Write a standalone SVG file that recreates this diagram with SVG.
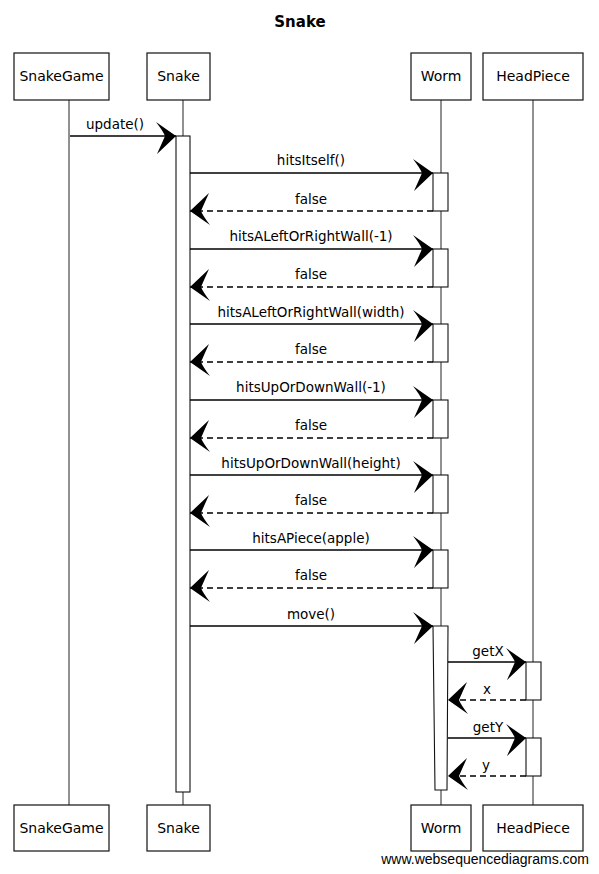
<svg xmlns="http://www.w3.org/2000/svg" width="599" height="874" viewBox="0 0 599 874">
<style>
text{font-family:"DejaVu Sans","Liberation Sans",sans-serif;fill:#000}
.box{fill:#fff;stroke:#111;stroke-width:1.2}
.life{stroke:#222;stroke-width:1;fill:none}
.act{fill:#fff;stroke:#111;stroke-width:1.1}
.lbl{font-size:14px;text-anchor:middle}
.msg{font-size:13.5px;text-anchor:middle}
.call{stroke:#000;stroke-width:1.3;fill:none;marker-end:url(#ah)}
.ret{stroke:#000;stroke-width:1.3;fill:none;stroke-dasharray:6 4;marker-end:url(#ah)}
</style>
<defs>
<marker id="ah" markerUnits="userSpaceOnUse" markerWidth="30" markerHeight="40" refX="27" refY="18" orient="auto" viewBox="0 0 30 40">
<path d="M27,18 L7,4 Q14,13 16,18 Q13,25 8,36 Z" fill="#000"/>
</marker>
</defs>
<text x="300" y="27" style="font-size:15px;font-weight:bold;text-anchor:middle">Snake</text>

<g id="SnakeGame">
<line class="life" x1="69" y1="100" x2="69" y2="805"/>
<rect class="box" x="14" y="53" width="95" height="47"/>
<text class="lbl" x="61.5" y="81">SnakeGame</text>
<rect class="box" x="14" y="805" width="95" height="46"/>
<text class="lbl" x="61.5" y="833">SnakeGame</text>
</g>

<g id="Snake">
<line class="life" x1="183" y1="100" x2="183" y2="805"/>
<rect class="box" x="147" y="53" width="63" height="47"/>
<text class="lbl" x="178.5" y="81">Snake</text>
<rect class="box" x="147" y="805" width="63" height="46"/>
<text class="lbl" x="178.5" y="833">Snake</text>
<rect class="act" x="176" y="136" width="14" height="656"/>
</g>

<g id="Worm">
<line class="life" x1="441" y1="100" x2="441" y2="805"/>
<rect class="box" x="411" y="53" width="60" height="47"/>
<text class="lbl" x="441" y="81">Worm</text>
<rect class="box" x="411" y="805" width="60" height="46"/>
<text class="lbl" x="441" y="833">Worm</text>
<rect class="act" x="433" y="173" width="15" height="38"/>
<rect class="act" x="433" y="249" width="15" height="38"/>
<rect class="act" x="433" y="324" width="15" height="38"/>
<rect class="act" x="433" y="400" width="15" height="38"/>
<rect class="act" x="433" y="475" width="15" height="38"/>
<rect class="act" x="433" y="550" width="15" height="38"/>
<path class="act" d="M433,626 L448,626 L447,790 L435,790 Z"/>
</g>

<g id="HeadPiece">
<line class="life" x1="533" y1="100" x2="533" y2="805"/>
<rect class="box" x="483" y="53" width="100" height="47"/>
<text class="lbl" x="533" y="81">HeadPiece</text>
<rect class="box" x="483" y="805" width="100" height="46"/>
<text class="lbl" x="533" y="833">HeadPiece</text>
<rect class="act" x="526" y="662" width="15" height="38"/>
<rect class="act" x="526" y="738" width="15" height="38"/>
</g>

<g id="connectors">
<path class="call" d="M70,136 L176,136"/>
<text class="msg" x="115" y="129">update()</text>

<path class="call" d="M190,173 L433,173"/>
<text class="msg" x="311" y="165">hitsItself()</text>
<path class="ret" d="M433,211 L190,211"/>
<text class="msg" x="311" y="204">false</text>

<path class="call" d="M190,249 L433,249"/>
<text class="msg" x="311" y="241">hitsALeftOrRightWall(-1)</text>
<path class="ret" d="M433,287 L190,287"/>
<text class="msg" x="311" y="279">false</text>

<path class="call" d="M190,324 L433,324"/>
<text class="msg" x="311" y="317">hitsALeftOrRightWall(width)</text>
<path class="ret" d="M433,362 L190,362"/>
<text class="msg" x="311" y="354">false</text>

<path class="call" d="M190,400 L433,400"/>
<text class="msg" x="311" y="392">hitsUpOrDownWall(-1)</text>
<path class="ret" d="M433,438 L190,438"/>
<text class="msg" x="311" y="430">false</text>

<path class="call" d="M190,475 L433,475"/>
<text class="msg" x="311" y="468">hitsUpOrDownWall(height)</text>
<path class="ret" d="M433,513 L190,513"/>
<text class="msg" x="311" y="505">false</text>

<path class="call" d="M190,550 L433,550"/>
<text class="msg" x="311" y="543">hitsAPiece(apple)</text>
<path class="ret" d="M433,588 L190,588"/>
<text class="msg" x="311" y="580">false</text>

<path class="call" d="M190,626 L433,626"/>
<text class="msg" x="311" y="619">move()</text>

<path class="call" d="M448,662 L526,662"/>
<text class="msg" x="488" y="656">getX</text>
<path class="ret" d="M526,700 L448,700"/>
<text class="msg" x="487" y="694">x</text>
<path class="call" d="M448,738 L526,738"/>
<text class="msg" x="488" y="732">getY</text>
<path class="ret" d="M526,776 L448,776"/>
<text class="msg" x="486" y="770">y</text>
</g>

<text x="589" y="864" style="font-family:'Liberation Sans',Arial,sans-serif;font-size:14px;text-anchor:end">www.websequencediagrams.com</text>
</svg>
